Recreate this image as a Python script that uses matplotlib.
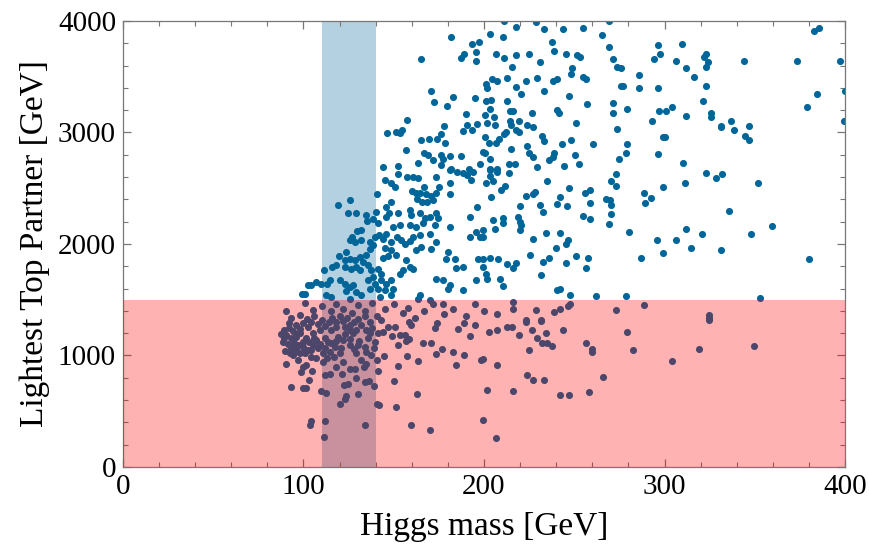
import numpy as np
import matplotlib
matplotlib.use("Agg")
import matplotlib.pyplot as plt
from matplotlib.ticker import MultipleLocator

# (Higgs mass [GeV], lightest top partner [GeV]), by region
pts_top = [
    (181.9, 3859), (193.5, 3793), (197.0, 3808), (195.4, 3718), (195.4, 3643), (187.4, 3664),
    (189.1, 3700), (165.1, 3655), (170.6, 3370), (172.5, 3277), (182.6, 3319), (179.5, 3241),
    (194.8, 3307), (189.8, 3163), (196.1, 3076), (190.4, 3064), (188.4, 3013), (193.4, 3019),
    (178.0, 3061), (157.3, 3112), (154.6, 3019), (151.1, 3007), (153.3, 2995), (146.3, 2995),
    (165.1, 2929), (169.3, 2941), (174.1, 2941), (176.2, 2983), (178.6, 2905), (156.6, 2842),
    (166.6, 2818), (169.0, 2800), (171.7, 2749), (176.2, 2800), (177.3, 2758), (181.2, 2785),
    (187.3, 2788), (163.6, 2725), (176.2, 2707), (181.7, 2674), (191.5, 2668), (197.6, 2716),
    (144.0, 2689), (152.5, 2698), (199.5, 2824),
    (211.1, 4000), (228.6, 3988), (269.1, 4000), (217.6, 3949), (233.4, 3925), (243.8, 3925),
    (254.9, 3937), (203.1, 3883), (210.5, 3859), (265.2, 3871), (237.5, 3808), (269.3, 3769),
    (296.2, 3784), (239.0, 3730), (206.5, 3703), (217.6, 3691), (224.8, 3703), (245.4, 3703),
    (251.7, 3694), (253.0, 3679), (211.3, 3667), (231.2, 3628), (271.7, 3655), (294.0, 3655),
    (297.3, 3706), (215.3, 3589), (248.6, 3574), (273.9, 3589), (276.1, 3574), (248.4, 3520),
    (285.9, 3514), (204.6, 3478), (207.4, 3463), (212.8, 3487), (229.4, 3487), (223.1, 3460),
    (238.2, 3460), (240.5, 3484), (254.9, 3499), (256.7, 3484), (200.9, 3433), (217.6, 3409),
    (233.4, 3370), (220.3, 3346), (247.1, 3331), (275.7, 3421), (277.0, 3421), (285.9, 3397),
    (296.2, 3397), (201.9, 3400), (203.7, 3289), (201.3, 3280), (212.7, 3280), (203.1, 3214),
    (214.2, 3190), (216.1, 3190), (226.4, 3175), (240.5, 3199), (241.6, 3175), (257.3, 3256),
    (271.7, 3268), (271.7, 3175), (279.4, 3214), (297.0, 3190), (200.6, 3160), (205.7, 3139),
    (201.7, 3088), (206.3, 3070), (214.2, 3100), (215.0, 3064), (219.4, 3100), (223.8, 3064),
    (227.2, 3046), (217.7, 3019), (219.2, 3007), (212.4, 3004), (211.3, 2983), (251.0, 3088),
    (292.9, 3100), (273.9, 3034), (200.6, 2959), (208.5, 2944), (232.0, 2971), (233.4, 2920),
    (248.4, 2932), (202.6, 2908), (206.5, 2908), (223.8, 2878), (243.0, 2893), (260.4, 2893),
    (279.4, 2893), (299.2, 2956), (214.8, 2854), (224.8, 2818), (227.2, 2779), (239.0, 2818),
    (238.2, 2782), (236.0, 2752), (250.2, 2800), (278.9, 2818), (296.2, 2803), (274.8, 2764),
    (200.6, 2818), (203.1, 2764), (213.9, 2713), (217.2, 2713), (229.4, 2689), (244.3, 2698),
    (252.6, 2713), (203.1, 2674), (207.2, 2668),
    (382.7, 3913), (385.8, 3937), (309.7, 3796), (306.6, 3643), (322.8, 3703), (322.1, 3676),
    (323.9, 3628), (323.2, 3586), (343.9, 3643), (373.2, 3643), (397.1, 3643), (312.1, 3574),
    (316.2, 3499), (323.2, 3421), (321.5, 3280), (384.3, 3343), (379.0, 3229), (304.3, 3232),
    (301.0, 3190), (312.1, 3151), (325.6, 3175), (325.8, 3139), (331.1, 3061), (331.1, 3046),
    (336.9, 3100), (338.3, 3022), (347.0, 3061), (344.6, 2971), (347.0, 2932), (399.5, 3100),
    (300.3, 2956), (310.4, 2725), (399.8, 3372),
]

pts_middle = [
    (99.2, 1554),
    (152.5, 2628), (145.3, 2574), (148.7, 2544), (150.5, 2514), (157.5, 2604), (160.7, 2598),
    (163.6, 2589), (173.2, 2604), (181.0, 2664), (185.0, 2649), (188.4, 2640), (190.8, 2619),
    (192.6, 2574), (193.9, 2649), (181.0, 2550), (174.9, 2514), (166.6, 2514), (160.1, 2478),
    (162.1, 2454), (164.4, 2460), (168.1, 2445), (170.8, 2430), (162.9, 2403), (165.7, 2379),
    (168.4, 2373), (171.7, 2394), (173.6, 2454), (181.0, 2448), (140.9, 2448), (148.7, 2379),
    (145.9, 2334), (119.1, 2349), (125.6, 2394), (124.6, 2280), (129.3, 2280), (134.8, 2259),
    (135.2, 2205), (138.5, 2220), (140.0, 2289), (141.3, 2184), (145.9, 2244), (147.4, 2280),
    (152.4, 2274), (158.8, 2304), (159.7, 2259), (164.4, 2274), (167.1, 2229), (170.3, 2244),
    (173.6, 2280), (174.5, 2229), (172.7, 2169), (166.2, 2190), (162.5, 2154), (158.8, 2169),
    (153.3, 2169), (149.6, 2154), (181.0, 2154), (192.1, 2244), (196.1, 2334), (195.8, 2109),
    (192.1, 2064), (197.6, 2064), (132.0, 2124), (129.6, 2115), (127.1, 2064), (125.6, 2034),
    (128.3, 2019), (132.0, 2034), (136.7, 2019), (138.5, 1989), (136.7, 1959), (139.4, 2064),
    (141.8, 2079), (144.0, 2049), (145.9, 2094), (148.7, 2019), (152.0, 2064), (154.2, 2034),
    (145.0, 1968), (148.7, 1944), (151.1, 1899), (146.8, 1890), (144.0, 1878), (156.1, 2004),
    (158.8, 2028), (160.7, 2064), (164.4, 2079), (169.9, 2094), (173.6, 2019), (170.8, 1959),
    (165.3, 1974), (162.5, 1944), (180.1, 1929), (179.1, 1869), (183.8, 1869), (188.4, 1794),
    (184.7, 1788), (196.7, 1869), (157.0, 1854), (158.8, 1794), (155.1, 1764), (153.3, 1734),
    (160.7, 1779), (123.7, 1929), (119.7, 1890), (122.8, 1854), (125.6, 1869), (128.3, 1860),
    (131.1, 1884), (134.8, 1899), (133.0, 1839), (129.3, 1794), (131.1, 1764), (126.5, 1779),
    (122.8, 1794), (118.2, 1809), (116.0, 1794), (111.2, 1764), (135.7, 1809), (137.6, 1764),
    (141.3, 1779), (143.1, 1734), (138.5, 1704), (135.7, 1674), (139.4, 1644), (143.1, 1674),
    (145.9, 1644), (148.7, 1674), (149.6, 1599), (145.0, 1584), (141.3, 1599), (136.7, 1599),
    (120.0, 1674), (122.8, 1644), (125.6, 1614), (127.4, 1629), (123.7, 1578), (129.3, 1569),
    (132.0, 1539), (114.5, 1674), (113.0, 1644), (109.9, 1644), (107.1, 1659), (104.3, 1629),
    (102.5, 1629), (100.6, 1554), (115.4, 1524), (112.6, 1539), (125.6, 1509), (142.2, 1524),
    (148.7, 1539), (164.4, 1539), (169.9, 1494), (173.6, 1689), (177.3, 1674), (181.0, 1629),
    (180.1, 1599), (188.4, 1584), (195.8, 1674), (163.4, 1509),
    (203.1, 2664), (207.4, 2649), (213.7, 2640), (203.1, 2613), (205.0, 2565), (201.3, 2550),
    (235.1, 2565), (273.3, 2628), (270.6, 2565), (273.3, 2523), (211.5, 2523), (209.6, 2484),
    (247.1, 2499), (228.1, 2469), (223.1, 2433), (227.2, 2448), (255.8, 2454), (258.9, 2484),
    (242.3, 2424), (204.1, 2424), (267.8, 2400), (269.6, 2394), (258.9, 2370), (288.5, 2460),
    (289.0, 2370), (292.3, 2409), (299.2, 2514), (240.6, 2358), (246.2, 2343), (220.1, 2343),
    (231.2, 2349), (232.7, 2289), (270.6, 2349), (270.6, 2265), (254.9, 2253), (258.9, 2226),
    (269.3, 2175), (218.8, 2244), (219.8, 2199), (220.7, 2169), (220.1, 2124), (210.5, 2229),
    (210.5, 2184), (205.0, 2214), (205.9, 2133), (199.5, 2124), (199.5, 2064), (234.2, 2100),
    (242.3, 2100), (280.3, 2109), (227.2, 2049), (246.5, 2034), (245.6, 1998), (239.7, 1968),
    (296.0, 2034), (225.5, 1905), (236.0, 1878), (232.7, 1842), (251.2, 1890), (257.6, 1878),
    (245.3, 1827), (256.7, 1788), (286.8, 1878), (299.2, 1920), (203.1, 1878), (207.9, 1866),
    (199.5, 1869), (212.8, 1824), (217.9, 1830), (216.1, 1788), (199.5, 1794), (200.9, 1734),
    (201.9, 1686), (209.1, 1683), (210.5, 1620), (231.8, 1725), (240.4, 1584), (242.3, 1599),
    (247.8, 1542), (262.1, 1530), (278.9, 1530),
    (323.2, 2640), (328.7, 2589), (332.0, 2628), (311.4, 2550), (351.8, 2550), (335.9, 2292),
    (312.1, 2136), (359.6, 2163), (306.6, 2034), (320.8, 2088), (347.9, 2088), (314.5, 1968),
    (331.1, 1944), (380.1, 1866), (352.7, 1518),
]

pts_low = [
    (90.5, 1401), (92.9, 1335), (98.3, 1362),
    (91.8, 1294), (96.0, 1273), (87.7, 1192), (90.5, 1183), (93.3, 1153), (95.7, 1168),
    (97.9, 1198), (88.7, 1123), (91.4, 1102), (94.6, 1108), (97.0, 1093), (99.7, 1123),
    (90.0, 1042), (92.4, 1018), (95.1, 1033), (97.9, 1018), (90.5, 928), (98.4, 853),
    (99.7, 898), (92.9, 721), (99.7, 709),
    (103.4, 373), (104.3, 412), (112.1, 412), (111.2, 268), (134.3, 373), (120.0, 568),
    (122.8, 613), (123.7, 634), (130.2, 658), (140.7, 568), (141.8, 553), (151.1, 538),
    (162.9, 658), (159.4, 373), (169.9, 334), (199.5, 424), (109.9, 682), (112.3, 667),
    (101.2, 709), (103.0, 784), (104.9, 862), (111.7, 823), (114.9, 838), (121.5, 838),
    (122.2, 739), (124.7, 748), (129.3, 802), (133.9, 763), (136.1, 772), (138.9, 724),
    (125.6, 883), (128.3, 883), (133.3, 898), (134.8, 922), (141.5, 862), (150.0, 772),
    (152.4, 904), (144.6, 994), (140.7, 958), (137.6, 1003), (134.8, 1033), (138.9, 1063),
    (139.4, 1123), (133.9, 1078), (129.3, 1018), (130.2, 1093), (157.3, 994), (163.4, 952),
    (173.6, 1009), (176.9, 1054), (182.6, 1033), (188.9, 1000), (184.3, 919), (192.1, 1174),
    (185.6, 1237), (188.9, 1294), (195.2, 1273), (198.5, 964), (166.2, 1108), (170.8, 1108),
    (172.7, 1243), (174.2, 1288), (156.6, 1132), (152.4, 1093), (153.3, 1183), (156.1, 1183),
    (158.4, 1144), (149.2, 1174), (150.5, 1252), (146.8, 1258), (144.0, 1213), (141.3, 1198),
    (158.4, 1303), (159.7, 1273), (142.8, 1318), (136.7, 1303), (134.8, 1228), (136.7, 1204),
    (127.4, 1198), (129.3, 1228), (125.6, 1273), (122.8, 1258), (118.2, 1252), (115.4, 1228),
    (119.1, 1168), (121.9, 1138), (125.6, 1093), (121.0, 1063), (117.3, 1078), (114.5, 1033),
    (110.8, 1018), (108.0, 1063), (105.3, 1093), (102.5, 1048), (100.6, 1018), (107.1, 973),
    (110.8, 943), (104.3, 988), (101.6, 913), (108.9, 1228), (105.3, 1198), (102.5, 1258),
    (101.6, 1153), (111.7, 1153), (113.6, 1123), (107.1, 1138), (132.0, 958), (121.9, 943),
    (118.2, 898),
    (89.0, 1160), (89.0, 1230), (92.0, 1250), (94.0, 1220), (96.0, 1190), (98.0, 1240),
    (100.0, 1290), (102.0, 1330), (104.0, 1300), (106.0, 1350), (108.0, 1280), (110.0, 1320),
    (112.0, 1260), (114.0, 1300), (116.0, 1340), (118.0, 1300), (120.0, 1350), (122.0, 1310),
    (124.0, 1340), (126.0, 1230), (128.0, 1300), (130.0, 1330), (132.0, 1270), (134.0, 1350),
    (136.0, 1160), (138.0, 1250), (103.0, 1120), (106.0, 1160), (109.0, 1100), (112.0, 1070),
    (115.0, 1110), (118.0, 1130), (120.0, 1020), (123.0, 1190), (126.0, 1150), (128.0, 1060),
    (131.0, 1130), (100.0, 1080), (96.0, 1060), (93.0, 1070), (104.0, 1050), (117.0, 990),
    (113.0, 980), (97.0, 960), (94.0, 1000),
    (101.0, 1470), (105.0, 1410), (110.0, 1440), (115.0, 1400), (118.0, 1460), (122.0, 1420),
    (127.0, 1380), (130.0, 1450), (134.0, 1400), (138.0, 1470), (141.0, 1350), (145.0, 1420),
    (150.0, 1460), (155.0, 1380), (158.0, 1430), (162.0, 1340), (167.0, 1400), (172.0, 1460),
    (178.0, 1370), (183.0, 1420), (190.0, 1350), (195.0, 1460), (200.0, 1400), (177.3, 1464),
    (216.1, 1479), (216.1, 1413), (207.2, 1374), (228.6, 1404), (231.8, 1320), (238.8, 1386),
    (242.3, 1416), (246.5, 1440), (247.8, 1464), (273.3, 1404), (288.5, 1455), (223.1, 1314),
    (324.8, 1365), (324.8, 1335),
    (223.1, 1303), (231.8, 1309), (202.6, 1210), (207.2, 1225), (212.7, 1252), (215.3, 1252),
    (219.2, 1186), (226.4, 1225), (234.2, 1198), (243.8, 1225), (229.6, 1159), (232.0, 1108),
    (235.1, 1108), (237.5, 1084), (224.8, 1045), (256.5, 1108), (259.7, 1054), (259.7, 1030),
    (279.2, 1210), (282.7, 1045), (199.5, 967), (207.2, 916), (223.8, 826), (227.2, 784),
    (233.4, 784), (265.9, 811), (201.7, 694), (216.1, 682), (242.3, 643), (247.1, 643),
    (258.2, 670), (206.5, 259),
    (324.8, 1318), (304.2, 952), (319.3, 1054), (349.4, 1081),
]

higgs_band = (110, 140)      # allowed Higgs mass window
partner_bound = 1500         # excluded top partner masses below this

pts = np.array(pts_top + pts_middle + pts_low)

plt.rcParams["font.family"] = ["Liberation Serif", "DejaVu Serif"]

fig = plt.figure(figsize=(8.69, 5.52), dpi=100)
ax = fig.add_axes([0.1415, 0.154, 0.8309, 0.808])

ax.axvspan(*higgs_band, color="#b3d1e1", lw=0, zorder=1)
ax.scatter(pts[:, 0], pts[:, 1], s=26, color="#006699", lw=0, zorder=2)
ax.axhspan(0, partner_bound, color="red", alpha=0.3, lw=0, zorder=3)

ax.set_xlim(0, 400)
ax.set_ylim(0, 4000)
ax.xaxis.set_major_locator(MultipleLocator(100))
ax.xaxis.set_minor_locator(MultipleLocator(20))
ax.yaxis.set_major_locator(MultipleLocator(1000))
ax.yaxis.set_minor_locator(MultipleLocator(200))
ax.tick_params(which="both", direction="in", top=True, right=True, color="#777777",
               labelsize=21, pad=5)
ax.tick_params(which="major", length=6, width=0.9)
ax.tick_params(which="minor", length=3.5, width=0.8)
for s in ax.spines.values():
    s.set_color("#777777")
    s.set_linewidth(0.9)

ax.set_xlabel("Higgs mass [GeV]", fontsize=24, labelpad=8)
ax.set_ylabel("Lightest Top Partner [GeV]", fontsize=24, labelpad=6)

fig.savefig("out.png", dpi=100)
